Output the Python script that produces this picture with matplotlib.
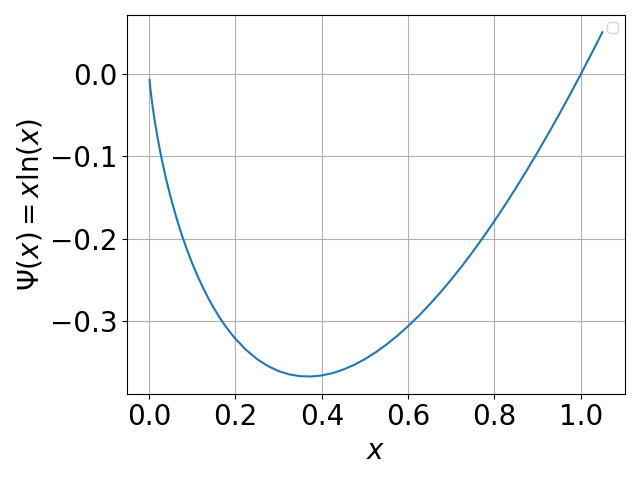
import matplotlib
matplotlib.use("Agg")
import matplotlib.pyplot as plt
from matplotlib.ticker import MultipleLocator

x_vals = [0.001, 0.002, 0.003, 0.005, 0.0075, 0.01, 0.0125, 0.015, 0.02, 0.025, 0.03, 0.0375,
          0.04, 0.05, 0.0625, 0.075, 0.0875, 0.1, 0.1125, 0.125, 0.1375, 0.15, 0.1625, 0.175,
          0.1875, 0.2, 0.225, 0.25, 0.275, 0.3, 0.325, 0.35, 0.375, 0.4, 0.425, 0.45, 0.475,
          0.5, 0.525, 0.55, 0.575, 0.6, 0.625, 0.65, 0.675, 0.7, 0.725, 0.75, 0.775, 0.8,
          0.825, 0.85, 0.875, 0.9, 0.925, 0.95, 0.975, 1.0, 1.025, 1.05]
y_vals = [-0.0069, -0.0124, -0.0174, -0.0265, -0.0367, -0.0461, -0.0548, -0.0630, -0.0782,
          -0.0922, -0.1052, -0.1231, -0.1288, -0.1498, -0.1733, -0.1943, -0.2131, -0.2303,
          -0.2458, -0.2599, -0.2728, -0.2846, -0.2953, -0.3051, -0.3139, -0.3219, -0.3356,
          -0.3466, -0.3550, -0.3612, -0.3653, -0.3674, -0.3678, -0.3665, -0.3637, -0.3593,
          -0.3536, -0.3466, -0.3383, -0.3288, -0.3182, -0.3065, -0.2938, -0.2800, -0.2653,
          -0.2497, -0.2332, -0.2158, -0.1976, -0.1785, -0.1587, -0.1381, -0.1168, -0.0948,
          -0.0721, -0.0487, -0.0247, 0.0, 0.0253, 0.0512]

fig, ax = plt.subplots(figsize=(6.4, 4.8), dpi=100)
ax.plot(x_vals, y_vals, color="#1f77b4")
ax.set_xlabel(r"$x$", fontsize=20)
ax.set_ylabel(r"$\Psi(x) = x\ln(x)$", fontsize=20)
ax.xaxis.set_major_locator(MultipleLocator(0.2))
ax.yaxis.set_major_locator(MultipleLocator(0.1))
ax.tick_params(labelsize=20)
ax.grid(True)
ax.legend()
fig.tight_layout()
fig.savefig("out.png")
